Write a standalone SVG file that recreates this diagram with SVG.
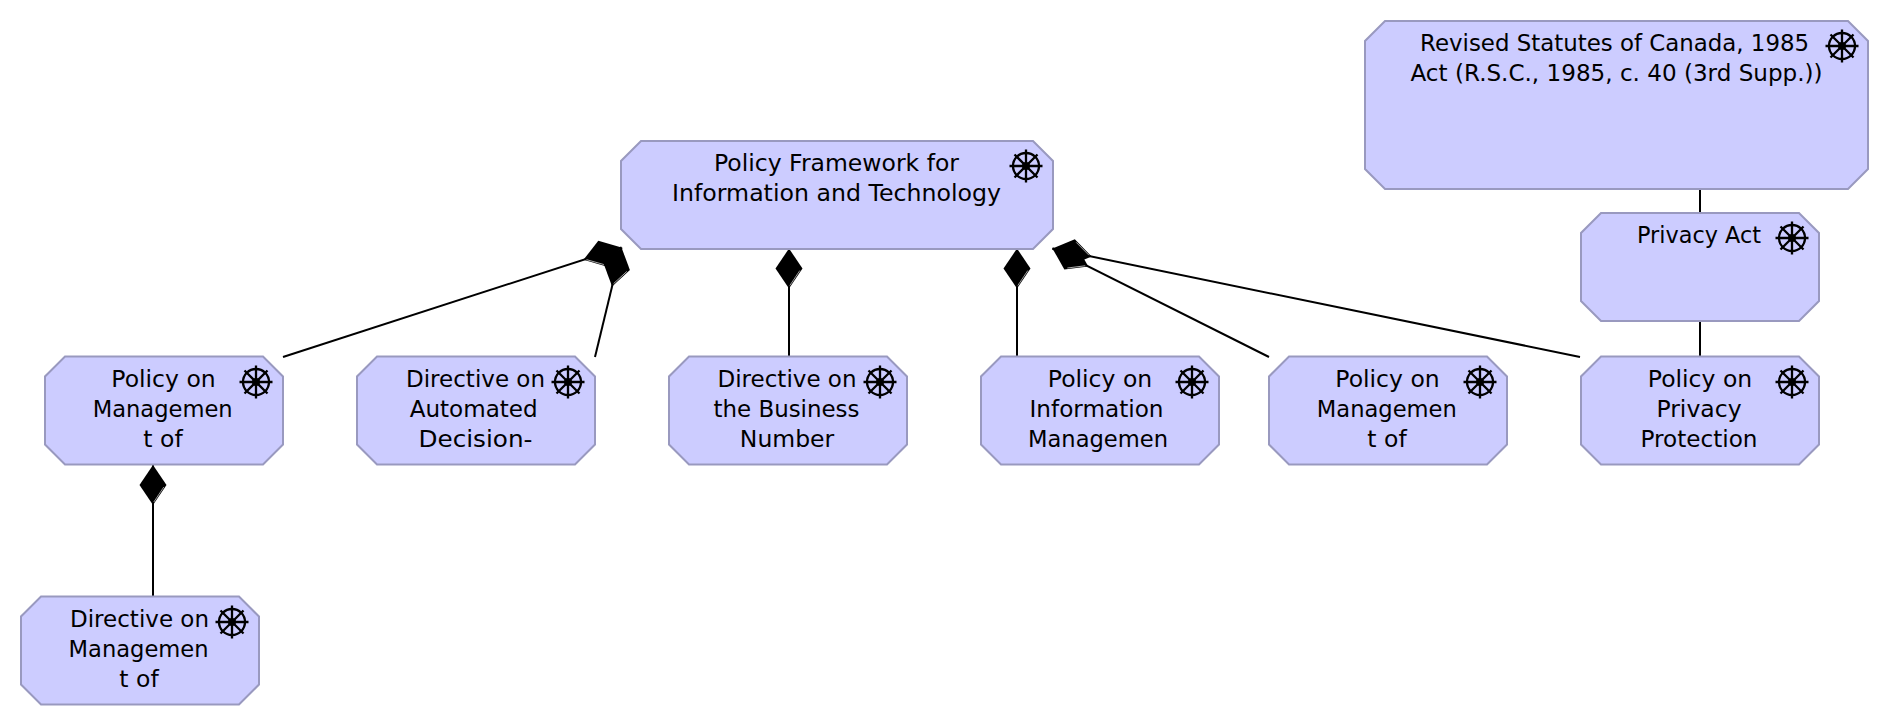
<svg xmlns="http://www.w3.org/2000/svg" xmlns:xlink="http://www.w3.org/1999/xlink" width="1890" height="726" viewBox="0 0 1890 726">
<style>
.box{fill:#ccccff;stroke:#9999bf;stroke-width:2}
.t{font-family:"DejaVu Sans","Liberation Sans",sans-serif;font-size:23.5px;fill:#000;text-anchor:middle}
.c{fill:none;stroke:#000;stroke-width:2}
.w{fill:none;stroke:#000;stroke-width:2.3}
</style>
<defs>
<marker id="compA" markerUnits="userSpaceOnUse" markerWidth="42" markerHeight="28" refX="0" refY="0" viewBox="0 -14 42 28" orient="auto" overflow="visible"><path d="M0 0L20 -13.5L40 0L20 13.5Z" fill="#000"/><path d="M22 -10.8L37 -0.8" stroke="#d8d8d8" stroke-width=".7" fill="none"/></marker>
<marker id="compB" markerUnits="userSpaceOnUse" markerWidth="42" markerHeight="28" refX="0" refY="0" viewBox="0 -14 42 28" orient="auto" overflow="visible"><path d="M0 0L20 -13.5L40 0L20 13.5Z" fill="#000"/><path d="M22 10.8L37 .8" stroke="#d8d8d8" stroke-width=".7" fill="none"/></marker>
<g id="wheel"><circle r="13" class="w"/><circle r="4" fill="#000"/><path class="w" d="M-16.5 0H16.5M0 -16.5V16.5M-11.5 -11.5L11.5 11.5M-11.5 11.5L11.5 -11.5"/></g>
</defs>
<rect width="1890" height="726" fill="#fff"/>
<g id="connectors">
<path class="c" marker-start="url(#compA)" d="M621.5 247.5L283 357"/>
<path class="c" marker-start="url(#compA)" d="M621.5 247.5L595 357"/>
<path class="c" marker-start="url(#compA)" d="M789 248.5V357"/>
<path class="c" marker-start="url(#compA)" d="M1017 248.5V357"/>
<path class="c" marker-start="url(#compB)" d="M1052.5 248.5L1269 357"/>
<path class="c" marker-start="url(#compA)" d="M1052.5 248.5L1580 357"/>
<path class="c" marker-start="url(#compA)" d="M153 465V597"/>
<path class="c" d="M1700 189V213"/>
<path class="c" d="M1700 321V357"/>
</g>
<g id="n-framework"><path class="box" d="M641 141H1033L1053 161V229L1033 249H641L621 229V161Z"/><use xlink:href="#wheel" href="#wheel" x="1026" y="166"/><text class="t" x="836.5" y="171">Policy Framework for</text><text class="t" x="836.5" y="201" textLength="329" lengthAdjust="spacingAndGlyphs">Information and Technology</text></g>
<g id="n-statutes"><path class="box" d="M1385 21H1848L1868 41V169L1848 189H1385L1365 169V41Z"/><use xlink:href="#wheel" href="#wheel" x="1842" y="46"/><text class="t" x="1614.6" y="51" textLength="389" lengthAdjust="spacingAndGlyphs">Revised Statutes of Canada, 1985</text><text class="t" x="1616.5" y="81" textLength="412" lengthAdjust="spacingAndGlyphs">Act (R.S.C., 1985, c. 40 (3rd Supp.))</text></g>
<g id="n-privacy-act"><path class="box" d="M1601 213H1799L1819 233V301L1799 321H1601L1581 301V233Z"/><use xlink:href="#wheel" href="#wheel" x="1792" y="238"/><text class="t" x="1699" y="243" textLength="124" lengthAdjust="spacingAndGlyphs">Privacy Act</text></g>
<g id="n1"><path class="box" d="M65 356.5H263L283 376.5V444.5L263 464.5H65L45 444.5V376.5Z"/><use xlink:href="#wheel" href="#wheel" x="256" y="382"/><text class="t" x="163.5" y="387">Policy on</text><text class="t" x="162.7" y="417" textLength="140" lengthAdjust="spacingAndGlyphs">Managemen</text><text class="t" x="163" y="447">t of</text></g>
<g id="n2"><path class="box" d="M377 356.5H575L595 376.5V444.5L575 464.5H377L357 444.5V376.5Z"/><use xlink:href="#wheel" href="#wheel" x="568" y="382"/><text class="t" x="475.5" y="387" textLength="139" lengthAdjust="spacingAndGlyphs">Directive on</text><text class="t" x="473.7" y="417" textLength="128" lengthAdjust="spacingAndGlyphs">Automated</text><text class="t" x="475.5" y="447" textLength="114" lengthAdjust="spacingAndGlyphs">Decision-</text></g>
<g id="n3"><path class="box" d="M689 356.5H887L907 376.5V444.5L887 464.5H689L669 444.5V376.5Z"/><use xlink:href="#wheel" href="#wheel" x="880" y="382"/><text class="t" x="787" y="387" textLength="139" lengthAdjust="spacingAndGlyphs">Directive on</text><text class="t" x="786.5" y="417" textLength="146" lengthAdjust="spacingAndGlyphs">the Business</text><text class="t" x="787" y="447">Number</text></g>
<g id="n4"><path class="box" d="M1001 356.5H1199L1219 376.5V444.5L1199 464.5H1001L981 444.5V376.5Z"/><use xlink:href="#wheel" href="#wheel" x="1192" y="382"/><text class="t" x="1100" y="387">Policy on</text><text class="t" x="1096.5" y="417" textLength="134" lengthAdjust="spacingAndGlyphs">Information</text><text class="t" x="1098" y="447" textLength="140" lengthAdjust="spacingAndGlyphs">Managemen</text></g>
<g id="n5"><path class="box" d="M1289 356.5H1487L1507 376.5V444.5L1487 464.5H1289L1269 444.5V376.5Z"/><use xlink:href="#wheel" href="#wheel" x="1480" y="382"/><text class="t" x="1387.5" y="387">Policy on</text><text class="t" x="1386.8" y="417" textLength="140" lengthAdjust="spacingAndGlyphs">Managemen</text><text class="t" x="1387" y="447">t of</text></g>
<g id="n6"><path class="box" d="M1601 356.5H1799L1819 376.5V444.5L1799 464.5H1601L1581 444.5V376.5Z"/><use xlink:href="#wheel" href="#wheel" x="1792" y="382"/><text class="t" x="1700" y="387">Policy on</text><text class="t" x="1699" y="417">Privacy</text><text class="t" x="1699" y="447" textLength="117" lengthAdjust="spacingAndGlyphs">Protection</text></g>
<g id="n7"><path class="box" d="M41 596.5H239L259 616.5V684.5L239 704.5H41L21 684.5V616.5Z"/><use xlink:href="#wheel" href="#wheel" x="232" y="622"/><text class="t" x="139.5" y="627" textLength="139" lengthAdjust="spacingAndGlyphs">Directive on</text><text class="t" x="138.6" y="657" textLength="140" lengthAdjust="spacingAndGlyphs">Managemen</text><text class="t" x="139" y="687">t of</text></g>
</svg>
